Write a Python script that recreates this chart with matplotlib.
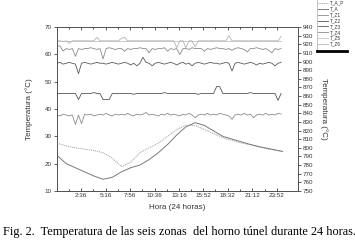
import matplotlib
matplotlib.use('Agg')
import matplotlib.pyplot as plt
from matplotlib.lines import Line2D
import numpy as np

# --- data -----------------------------------------------------------------
# ambient temperatures (left axis), one reading per hour, minutes since 0:00
t_amb = [0, 60, 120, 180, 240, 300, 360, 420, 480, 540, 600, 660, 720,
         780, 840, 900, 960, 1020, 1080, 1140, 1200, 1260, 1320, 1380, 1440, 1470]
T_A_P = [27.5, 26.5, 25.8, 25.3, 24.8, 24.0, 22.0, 19.0, 20.5, 24.0, 25.8, 27.5, 30.0,
         32.5, 34.0, 34.0, 32.5, 31.0, 29.5, 28.5, 27.5, 27.0, 26.0, 25.3, 24.8, 24.3]
T_A = [23.0, 20.0, 18.5, 17.0, 15.5, 14.3, 15.0, 17.0, 18.5, 19.5, 21.5, 24.0, 27.0,
       30.5, 33.5, 35.0, 34.0, 32.0, 30.0, 29.0, 28.0, 27.0, 26.2, 25.5, 24.8, 24.5]

# zone temperatures (right axis), one reading every 20 minutes
t_zone = np.arange(0, 1461, 20)
T_Z1 = [838, 837, 839, 838, 837, 838, 827, 838, 828, 839,
        838, 839, 837, 838, 839, 838, 840, 838, 837, 839,
        838, 839, 838, 840, 838, 837, 839, 838, 839, 841,
        838, 839, 838, 837, 839, 838, 840, 838, 839, 838,
        837, 839, 838, 840, 838, 835, 838, 839, 838, 840,
        838, 839, 838, 840, 839, 838, 837, 833, 838, 839,
        838, 840, 838, 839, 835, 838, 839, 838, 840, 838,
        839, 838, 840, 839]
T_Z2 = [863, 863, 863, 863, 863, 863, 863, 856, 863, 863,
        863, 863, 864, 863, 863, 856, 856, 856, 863, 863,
        863, 863, 863, 863, 863, 862, 863, 863, 863, 863,
        863, 863, 863, 863, 863, 864, 863, 863, 863, 863,
        863, 863, 863, 863, 863, 863, 862, 863, 863, 863,
        863, 863, 871, 871, 863, 863, 863, 863, 863, 863,
        863, 863, 863, 864, 863, 863, 863, 863, 863, 863,
        863, 863, 855, 863]
T_Z3 = [898, 899, 897, 898, 899, 898, 897, 886, 898, 899,
        898, 897, 898, 899, 898, 898, 897, 898, 899, 898,
        897, 898, 899, 898, 896, 898, 895, 898, 905, 899,
        898, 895, 898, 899, 898, 897, 898, 899, 898, 896,
        898, 899, 897, 898, 895, 898, 899, 898, 897, 898,
        899, 898, 898, 897, 898, 899, 898, 889, 898, 899,
        898, 897, 898, 899, 898, 896, 898, 897, 898, 899,
        898, 895, 898, 899]
T_Z4 = [918, 918, 912, 915, 914, 915, 906, 915, 914, 915,
        915, 916, 915, 914, 915, 903, 915, 916, 915, 914,
        915, 915, 912, 915, 914, 915, 915, 916, 915, 915,
        910, 915, 914, 915, 915, 916, 912, 915, 914, 915,
        908, 915, 915, 914, 916, 915, 915, 915, 912, 915,
        914, 915, 916, 915, 915, 914, 915, 913, 915, 916,
        915, 914, 911, 915, 915, 916, 915, 914, 915, 913,
        910, 915, 914, 915]
T_Z5 = [924, 924, 924, 924, 924, 924, 924, 924, 924, 924,
        924, 924, 924, 924, 924, 924, 924, 924, 924, 924,
        924, 924, 924, 924, 924, 924, 924, 924, 924, 924,
        924, 924, 924, 924, 924, 924, 924, 924, 924, 924,
        924, 924, 924, 924, 924, 924, 924, 924, 924, 924,
        924, 924, 924, 924, 924, 924, 924, 924, 924, 924,
        924, 924, 924, 924, 924, 924, 924, 924, 924, 924,
        924, 924, 924, 924]
T_Z6 = [924, 924, 923, 924, 921, 924, 924, 924, 924, 924,
        924, 924, 924, 928, 924, 924, 924, 924, 924, 924,
        924, 927, 928, 924, 924, 924, 924, 924, 924, 924,
        924, 924, 924, 924, 924, 924, 924, 924, 924, 916,
        924, 924, 916, 924, 924, 917, 924, 924, 924, 924,
        924, 924, 924, 924, 924, 924, 930, 924, 924, 924,
        924, 924, 924, 924, 924, 924, 924, 924, 924, 924,
        924, 924, 924, 929]

xticks = [156, 316, 476, 636, 796, 952, 1112, 1272, 1432]
xticklabels = ['2:36', '5:16', '7:56', '10:36', '13:16', '15:52', '18:32', '21:12', '23:52']

# --- figure ---------------------------------------------------------------
plt.rcParams['font.family'] = ['Liberation Sans', 'DejaVu Sans']
txt = '#333333'

fig = plt.figure(figsize=(3.55, 2.45), dpi=100)
ax = fig.add_axes([57 / 355, 1 - 191 / 245, 241 / 355, 164 / 245])
ax2 = ax.twinx()

l_ap, = ax.plot(t_amb, T_A_P, color='#9a9a9a', lw=0.7, ls=(0, (1, 1)), label='T_A_P')
l_a, = ax.plot(t_amb, T_A, color='#7a7a7a', lw=0.7, label='T_A')

zones = [(T_Z1, '#8c8c8c', 'T_Z1'), (T_Z2, '#555555', 'T_Z2'),
         (T_Z3, '#5a5a5a', 'T_Z3'), (T_Z4, '#8a8a8a', 'T_Z4'),
         (T_Z5, '#c4c4c4', 'T_Z5'), (T_Z6, '#b4b4b4', 'T_Z6')]
zl = []
for vals, c, name in zones:
    l, = ax2.plot(t_zone, vals, color=c, lw=0.6, label=name)
    zl.append(l)

ax.set_xlim(0, 1570)
ax.set_ylim(10, 70)
ax2.set_ylim(750, 940)

ax.set_xticks(xticks)
ax.set_xticklabels(xticklabels)
ax.set_xticks([x + 80 for x in xticks[:-1]] + [76], minor=True)
ax.set_yticks(range(10, 71, 10))
ax2.set_yticks(range(750, 941, 10))

ax.tick_params(axis='both', labelsize=4.5, colors='#444444', labelcolor=txt,
               length=2.5, width=0.6, pad=1.5)
ax.tick_params(axis='x', which='both', top=True, direction='in')
ax.tick_params(axis='x', which='minor', length=1.5, width=0.5)
ax.tick_params(axis='y', direction='out')
ax2.tick_params(axis='y', labelsize=4.5, colors='#444444', labelcolor=txt,
                length=2.5, width=0.6, pad=1.0, direction='out')

for a in (ax, ax2):
    for s in a.spines.values():
        s.set_color('#555555')
        s.set_linewidth(0.7)

ax.set_xlabel('Hora (24 horas)', fontsize=5.8, color=txt, labelpad=4)
ax.set_ylabel('Temperatura (°C)', fontsize=5.8, color=txt, labelpad=8)
ax2.set_ylabel('Temperatura (°C)', fontsize=5.8, color=txt, rotation=270,
               labelpad=5, va='bottom')

handles = [l_ap, l_a] + zl
fig.legend(handles, [h.get_label() for h in handles], loc='upper left',
           bbox_to_anchor=(317 / 355, 1.0), frameon=False, fontsize=3.4,
           handlelength=2.2, handletextpad=0.3, labelspacing=0.18,
           borderpad=0.15, borderaxespad=0, labelcolor=txt)

# legend box edges (left side and heavy bottom rule)
fig.add_artist(Line2D([317 / 355, 317 / 355], [1, 1 - 51 / 245],
                      transform=fig.transFigure, color='#aaaaaa', lw=0.5))
fig.add_artist(Line2D([317 / 355, 347 / 355], [1 - 51.5 / 245, 1 - 51.5 / 245],
                      transform=fig.transFigure, color='black', lw=2.0))

fig.text(3 / 355, 1 - 232 / 245,
         'Fig. 2.  Temperatura de las seis zonas  del horno túnel durante 24 horas.',
         family=['Liberation Serif', 'DejaVu Serif'], fontsize=8.8,
         ha='left', va='center', color='black')

fig.savefig('out.png', dpi=100)
